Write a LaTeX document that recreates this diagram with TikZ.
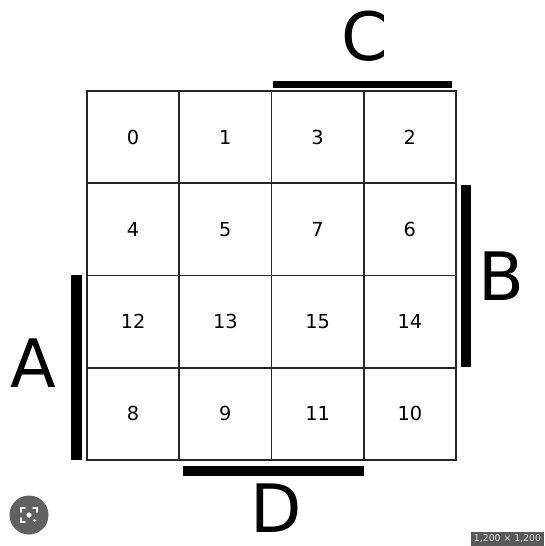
\documentclass[tikz,border=0pt]{standalone}
\usepackage{fontspec}
\setmainfont{DejaVu Sans}
\usetikzlibrary{positioning}

\begin{document}
\begin{tikzpicture}[
    x=0.02cm, y=-0.02cm,
    cell/.style={rectangle, draw=black!85, line width=1pt, minimum size=1.845cm, inner sep=0pt, font=\fontsize{11}{13}\selectfont},
    bar/.style={line width=5.7pt, line cap=butt},
    letter/.style={inner sep=0pt, font=\fontsize{38}{44}\selectfont}
]
\useasboundingbox[fill=white] (0,0) rectangle (544,546);

% Karnaugh map cells (Gray code order)
\foreach \lbl [count=\i from 0] in {0,1,3,2,4,5,7,6,12,13,15,14,8,9,11,10} {
    \pgfmathtruncatemacro\row{\i/4}
    \pgfmathtruncatemacro\col{mod(\i,4)}
    \node[cell] (k\lbl) at ({87+92.25*(\col+0.5)}, {91+92.25*(\row+0.5)}) {\lbl};
}

% Variable bars
\draw[bar, line width=4pt] (273,84.5) -- (452,84.5);
\draw[bar] (465.5,185) -- (465.5,367);
\draw[bar] (76.5,275) -- (76.5,460);
\draw[bar] (183,471) -- (364,471);

% Variable letters
\node[letter] (lblC) at (365,36) {C};
\node[letter] (lblB) at (501,276) {B};
\node[letter] (lblA) at (33,363) {A};
\node[letter] (lblD) at (276,508) {D};

% Overlay marks
\fill[black!62] (29,515) circle (19.5);
\draw[white, line width=1.1pt, line cap=round]
    (21,512) -- (21,508) -- (25,508)
    (33,508) -- (37,508) -- (37,512)
    (21,518) -- (21,522) -- (25,522);
\fill[white] (29,515) circle (2.6);
\fill[white] (34.5,520.5) circle (1.6);
\node[fill=black!65, text=black!12, inner sep=1.5pt, anchor=south east, font=\fontsize{5.3}{6}\selectfont] (badge) at (544,546) {1,200 × 1,200};
\end{tikzpicture}
\end{document}
